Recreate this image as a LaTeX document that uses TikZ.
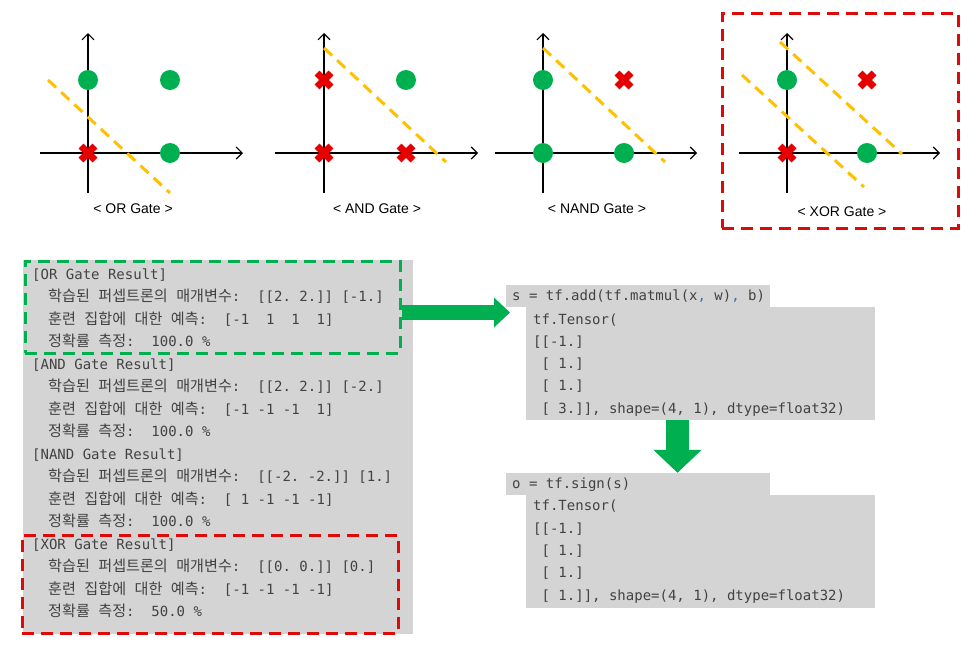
\documentclass[tikz,border=0pt]{standalone}
\usepackage{fontspec}
\usetikzlibrary{arrows.meta}
\newfontfamily\codefont{DejaVu Sans Mono}
\newfontfamily\krfont[Scale=1.08]{Noto Sans CJK KR}
\newfontfamily\labelfont{Liberation Sans}
\newcommand\K[1]{{\krfont #1}}
\definecolor{ptgreen}{RGB}{0,176,80}
\definecolor{ptred}{RGB}{230,0,0}
\definecolor{boxred}{RGB}{222,10,10}
\definecolor{gold}{RGB}{255,192,0}
\definecolor{panel}{RGB}{212,212,212}
\definecolor{txtgray}{RGB}{66,66,66}
\definecolor{commablue}{RGB}{40,120,200}
\tikzset{
  axis/.style={line width=1.1pt,black,-{Straight Barb[length=6pt,width=12pt]}},
  border/.style={gold,line width=3pt,dash pattern=on 11pt off 7pt},
  dot/.pic={\fill[ptgreen] (0,0) circle (10);},
  cross/.pic={\draw[ptred,line width=7pt] (-7,-7) -- (7,7) (-7,7) -- (7,-7);},
  gatelabel/.style={font=\labelfont\fontsize{14}{16}\selectfont,inner sep=0pt},
  panelbox/.style={fill=panel,draw=none,inner sep=0pt},
  cline/.style={anchor=base west,inner sep=0pt,text=txtgray,
    font=\codefont\fontsize{14}{16}\selectfont},
  greenframe/.style={draw=ptgreen,line width=3pt,dash pattern=on 12pt off 7pt,inner sep=0pt},
  redframe/.style={draw=boxred,line width=3pt,dash pattern=on 12pt off 7pt,inner sep=0pt},
  flow/.style={draw=ptgreen},
}
\begin{document}
\begin{tikzpicture}[x=1pt,y=-1pt]
\useasboundingbox (0,0) rectangle (978,651);

% ---------- OR gate ----------
\draw[axis] (88,193) -- (88,33);
\draw[axis] (40,153) -- (243,153);
\draw[border] (48,80) -- (170,193);
\pic at (88,80) {dot};
\pic at (170,80) {dot};
\pic at (88,153) {cross};
\pic at (170,153) {dot};
\node[gatelabel] (orlabel) at (133,209) {< OR Gate >};

% ---------- AND gate ----------
\draw[axis] (324,193) -- (324,33);
\draw[axis] (275,153) -- (478,153);
\draw[border] (324,48) -- (446,162);
\pic at (324,80) {cross};
\pic at (406,80) {dot};
\pic at (324,153) {cross};
\pic at (406,153) {cross};
\node[gatelabel] (andlabel) at (377,209) {< AND Gate >};

% ---------- NAND gate ----------
\draw[axis] (543,193) -- (543,33);
\draw[axis] (495,153) -- (697,153);
\draw[border] (543,48) -- (665,162);
\pic at (543,80) {dot};
\pic at (624,80) {cross};
\pic at (543,153) {dot};
\pic at (624,153) {dot};
\node[gatelabel] (nandlabel) at (597,209) {< NAND Gate >};

% ---------- XOR gate ----------
\draw[axis] (787,193) -- (787,33);
\draw[axis] (739,153) -- (940,153);
\draw[border] (780,42) -- (902,154);
\draw[border] (742,75) -- (864,187);
\pic at (787,80) {dot};
\pic at (867,80) {cross};
\pic at (787,153) {cross};
\pic at (867,153) {dot};
\node[gatelabel] (xorlabel) at (842,212) {< XOR Gate >};
\node[redframe,minimum width=236pt,minimum height=215pt] (xorframe) at (840,120.5) {};

% ---------- console output ----------
\node[panelbox,minimum width=390pt,minimum height=374pt] (console) at (218,447) {};

\node[cline] (c0) at (32,279) {[OR Gate Result]};
\node[cline] (c1) at (48,301.5) {\K{학습된} \K{퍼셉트론의} \K{매개변수}:~~[[2.~2.]]~[-1.]};
\node[cline] (c2) at (48,324) {\K{훈련} \K{집합에} \K{대한} \K{예측}:~~[-1~~1~~1~~1]};
\node[cline] (c3) at (48,346.5) {\K{정확률} \K{측정}:~~100.0~\%};
\node[cline] (c4) at (32,369) {[AND Gate Result]};
\node[cline] (c5) at (48,391.5) {\K{학습된} \K{퍼셉트론의} \K{매개변수}:~~[[2.~2.]]~[-2.]};
\node[cline] (c6) at (48,414) {\K{훈련} \K{집합에} \K{대한} \K{예측}:~~[-1~-1~-1~~1]};
\node[cline] (c7) at (48,436.5) {\K{정확률} \K{측정}:~~100.0~\%};
\node[cline] (c8) at (32,459) {[NAND Gate Result]};
\node[cline] (c9) at (48,481.5) {\K{학습된} \K{퍼셉트론의} \K{매개변수}:~~[[-2.~-2.]]~[1.]};
\node[cline] (c10) at (48,504) {\K{훈련} \K{집합에} \K{대한} \K{예측}:~~[~1~-1~-1~-1]};
\node[cline] (c11) at (48,526.5) {\K{정확률} \K{측정}:~~100.0~\%};
\node[cline] (c12) at (32,549) {[XOR Gate Result]};
\node[cline] (c13) at (48,571.5) {\K{학습된} \K{퍼셉트론의} \K{매개변수}:~~[[0.~0.]]~[0.]};
\node[cline] (c14) at (48,594) {\K{훈련} \K{집합에} \K{대한} \K{예측}:~~[-1~-1~-1~-1]};
\node[cline] (c15) at (48,616.5) {\K{정확률} \K{측정}:~~50.0~\%};

\node[greenframe,minimum width=375pt,minimum height=92pt] (orbox) at (212.5,307) {};
\node[redframe,minimum width=376pt,minimum height=98pt] (xorbox) at (210,584) {};

% ---------- weighted sum ----------
\node[panelbox,minimum width=264pt,minimum height=22pt] (sline) at (638,296) {};
\node[panelbox,minimum width=349pt,minimum height=113pt] (sval) at (700.5,363.5) {};
\node[cline] (s0) at (512,300.5) {s = tf.add(tf.matmul(x{\color{commablue},} w){\color{commablue},} b)};
\node[cline] (s1) at (533,324) {tf.Tensor(};
\node[cline] (s2) at (533,346.5) {[[-1.]};
\node[cline] (s3) at (533,368.5) {~[~1.]};
\node[cline] (s4) at (533,390.5) {~[~1.]};
\node[cline] (s5) at (533,413) {~[~3.]],~shape=(4,~1),~dtype=float32)};

% ---------- sign ----------
\node[panelbox,minimum width=264pt,minimum height=22pt] (oline) at (638,484) {};
\node[panelbox,minimum width=349pt,minimum height=113pt] (oval) at (700.5,551.5) {};
\node[cline] (o0) at (512,488) {o = tf.sign(s)};
\node[cline] (o1) at (533,510.5) {tf.Tensor(};
\node[cline] (o2) at (533,533) {[[-1.]};
\node[cline] (o3) at (533,555) {~[~1.]};
\node[cline] (o4) at (533,577) {~[~1.]};
\node[cline] (o5) at (533,600) {~[~1.]],~shape=(4,~1),~dtype=float32)};

% ---------- flow arrows ----------
\coordinate (rtip) at (510,312.5);
\draw[flow,line width=15pt,-{Triangle[length=16pt,width=29pt]}]
  (orbox.east |- rtip) -- (rtip);
\coordinate (dcol) at (677.5,0);
\draw[flow,line width=23pt,-{Triangle[length=23pt,width=47pt]}]
  (sval.south -| dcol) -- (oline.north -| dcol);
\end{tikzpicture}
\end{document}
